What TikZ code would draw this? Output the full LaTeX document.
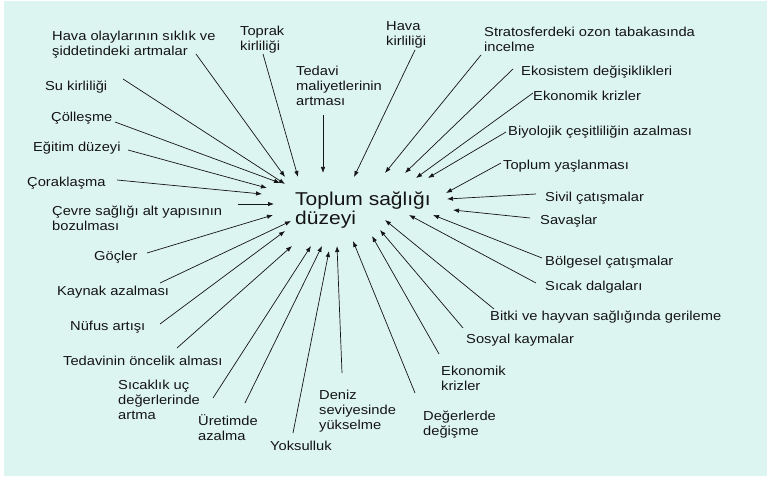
\documentclass[tikz,border=0pt]{standalone}
\usepackage{fontspec}
\setmainfont{Liberation Sans}[FakeStretch=1.13]
\usetikzlibrary{arrows.meta}
\definecolor{bgcyan}{RGB}{221,245,241}
\definecolor{ink}{RGB}{20,20,20}
\newcommand{\mlines}[1]{\begin{tabular}[t]{@{}l@{}}#1\end{tabular}}
\tikzset{
  lab/.style={anchor=base west, inner sep=0pt, font=\fontsize{13}{15}\selectfont, text=ink},
  mainlab/.style={anchor=base west, inner sep=0pt, font=\fontsize{18.6}{20}\selectfont, text=ink},
  arr/.style={draw=ink, line width=0.7pt, -{Latex[length=6pt,width=4.5pt]}}
}
\begin{document}
\begin{tikzpicture}[x=1pt,y=-1pt]
\useasboundingbox (0,0) rectangle (767,478);
\fill[white] (0,0) rectangle (767,478);
\fill[bgcyan] (4,1.5) rectangle (767,476);

% central node
\node[mainlab] (center) at (295,205) {\mlines{Toplum sağlığı\\düzeyi}};

% labels
\node[lab] (l1) at (52,40.5) {\mlines{Hava olaylarının sıklık ve\\şiddetindeki artmalar}};
\node[lab] (l2) at (240,35.5) {\mlines{Toprak\\kirliliği}};
\node[lab] (l3) at (296,75.5) {\mlines{Tedavi\\maliyetlerinin\\artması}};
\node[lab] (l4) at (45,90.5) {Su kirliliği};
\node[lab] (l5) at (51,121.5) {Çölleşme};
\node[lab] (l6) at (33,151.5) {Eğitim düzeyi};
\node[lab] (l7) at (27,186.5) {Çoraklaşma};
\node[lab] (l8) at (52,215.5) {\mlines{Çevre sağlığı alt yapısının\\bozulması}};
\node[lab] (l9) at (94,260.5) {Göçler};
\node[lab] (l10) at (57,295.5) {Kaynak azalması};
\node[lab] (l11) at (70,330.5) {Nüfus artışı};
\node[lab] (l12) at (63,365.5) {Tedavinin öncelik alması};
\node[lab] (l13) at (118,389.5) {\mlines{Sıcaklık uç\\değerlerinde\\artma}};
\node[lab] (l14) at (198,425.5) {\mlines{Üretimde\\azalma}};
\node[lab] (l15) at (270,450.5) {Yoksulluk};
\node[lab] (l16) at (319,399.5) {\mlines{Deniz\\seviyesinde\\yükselme}};
\node[lab] (l17) at (386,30.5) {\mlines{Hava\\kirliliği}};
\node[lab] (l18) at (484,36.5) {\mlines{Stratosferdeki ozon tabakasında\\incelme}};
\node[lab] (l19) at (521,75.5) {Ekosistem değişiklikleri};
\node[lab] (l20) at (533,100.5) {Ekonomik krizler};
\node[lab] (l21) at (508,135.5) {Biyolojik çeşitliliğin azalması};
\node[lab] (l22) at (503,169.5) {Toplum yaşlanması};
\node[lab] (l23) at (545,201.5) {Sivil çatışmalar};
\node[lab] (l24) at (540,224.5) {Savaşlar};
\node[lab] (l25) at (545,265.5) {Bölgesel çatışmalar};
\node[lab] (l26) at (545,290.5) {Sıcak dalgaları};
\node[lab] (l27) at (490,320.5) {Bitki ve hayvan sağlığında gerileme};
\node[lab] (l28) at (466,343.5) {Sosyal kaymalar};
\node[lab] (l29) at (441,375.5) {\mlines{Ekonomik\\krizler}};
\node[lab] (l30) at (423,420.5) {\mlines{Değerlerde\\değişme}};

% arrow start and end coordinates
\coordinate (s1) at (196,54);   \coordinate (e1) at (285,177);
\coordinate (s2) at (263,54);   \coordinate (e2) at (298,177);
\coordinate (s3) at (323,115);  \coordinate (e3) at (323,173);
\coordinate (s4) at (123,79);   \coordinate (e4) at (285,184);
\coordinate (s5) at (115,122);  \coordinate (e5) at (280,183);
\coordinate (s6) at (128,150);  \coordinate (e6) at (267,188);
\coordinate (s7) at (117,180);  \coordinate (e7) at (262,194);
\coordinate (s8) at (238,204);  \coordinate (e8) at (274,204);
\coordinate (s9) at (147,253);  \coordinate (e9) at (273,215);
\coordinate (s10) at (160,283); \coordinate (e10) at (291,221);
\coordinate (s11) at (160,324); \coordinate (e11) at (285,231);
\coordinate (s12) at (177,348); \coordinate (e12) at (292,246);
\coordinate (s13) at (213,398); \coordinate (e13) at (311,246);
\coordinate (s14) at (245,403); \coordinate (e14) at (322,246);
\coordinate (s15) at (293,433); \coordinate (e15) at (329,251);
\coordinate (s16) at (342,373); \coordinate (e16) at (337,246);
\coordinate (s17) at (415,50);  \coordinate (e17) at (354,177);
\coordinate (s18) at (481,55);  \coordinate (e18) at (385,173);
\coordinate (s19) at (513,69);  \coordinate (e19) at (405,173);
\coordinate (s20) at (533,93);  \coordinate (e20) at (416,178);
\coordinate (s21) at (506,132); \coordinate (e21) at (428,178);
\coordinate (s22) at (501,163); \coordinate (e22) at (446,193);
\coordinate (s23) at (536,194); \coordinate (e23) at (447,199);
\coordinate (s24) at (530,218); \coordinate (e24) at (453,210);
\coordinate (s25) at (542,258); \coordinate (e25) at (433,215);
\coordinate (s26) at (536,283); \coordinate (e26) at (409,215);
\coordinate (s27) at (494,309); \coordinate (e27) at (385,220);
\coordinate (s28) at (463,328); \coordinate (e28) at (380,230);
\coordinate (s29) at (439,354); \coordinate (e29) at (372,236);
\coordinate (s30) at (415,393); \coordinate (e30) at (353,241);

\foreach \i in {1,...,30} {
  \draw[arr] (s\i) -- (e\i);
}
\end{tikzpicture}
\end{document}
